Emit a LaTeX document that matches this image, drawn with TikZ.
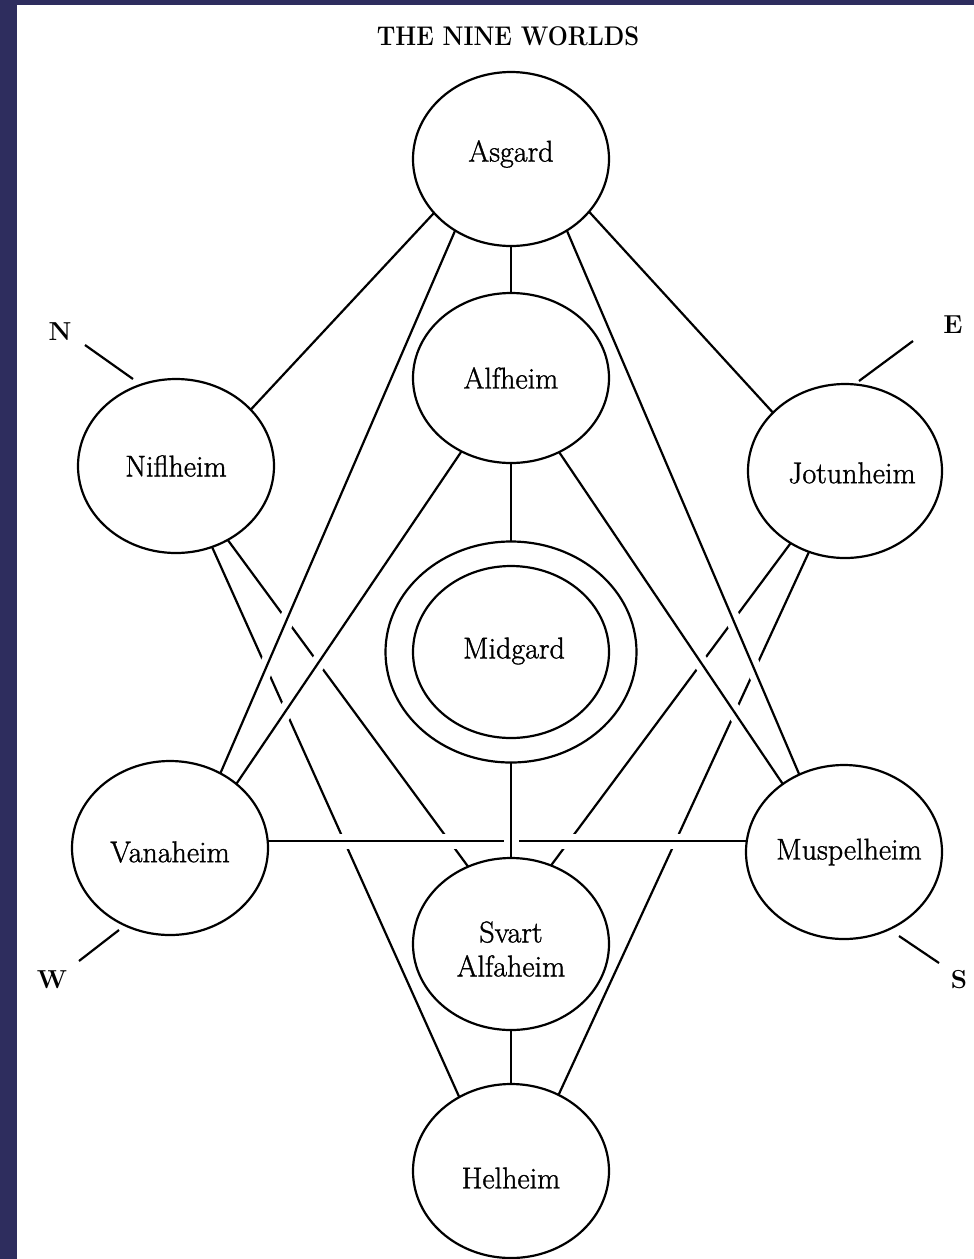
\documentclass[tikz,border=0pt]{standalone}
\usepackage{graphicx}
\usepackage{fontspec}
\newfontfamily\labfont{Latin Modern Roman}[FakeBold=1.2]
\usetikzlibrary{shapes.geometric}
\definecolor{band}{RGB}{46,45,94}
\pgfdeclarelayer{back}
\pgfdeclarelayer{lines}
\pgfsetlayers{back,lines,main}
\begin{document}
\begin{tikzpicture}[x=1pt,y=-1pt,
  world/.style={draw, ellipse, line width=2.2pt, minimum width=196pt, minimum height=174pt, inner sep=0pt, outer sep=0pt},
  txt/.style={font=\labfont\fontsize{30}{34}\selectfont, inner sep=0pt},
  link/.style={line width=2.2pt},
  over/.style={line width=2.2pt, preaction={draw=white, line width=15pt}},
  dirlab/.style={font=\bfseries\fontsize{26}{28}\selectfont, inner sep=0pt},
  tick/.style={line width=2.2pt},
]
\begin{pgfonlayer}{back}
\fill[white] (0,0) rectangle (974,1259);
\fill[band] (0,0) rectangle (17,1259);
\fill[band] (0,0) rectangle (974,5);
\end{pgfonlayer}
\useasboundingbox (0,0) rectangle (974,1259);

% title
\node[font=\bfseries\fontsize{27}{30}\selectfont, inner sep=0pt] (title) at (508,36) {\scalebox{0.88}[1]{THE NINE WORLDS}};

% worlds
\node[world, label={[txt,yshift=5pt]center:Asgard}] (asgard) at (511,159) {};
\node[world, minimum height=170pt, label={[txt]center:Alfheim}] (alfheim) at (511,378) {};
\node[world, label={[txt]center:Niflheim}] (niflheim) at (176,466) {};
\node[world, minimum width=194pt, label={[txt,xshift=7pt,yshift=-2pt]center:Jotunheim}] (jotunheim) at (845,471) {};
\node[world, label={[txt,yshift=-4pt]center:Vanaheim}] (vanaheim) at (170,848) {};
\node[world, label={[txt,xshift=5pt]center:Muspelheim}] (muspelheim) at (844,852) {};
\node[world, minimum height=172pt, label={[txt,xshift=3pt,yshift=1pt]center:Midgard}] (midgardin) at (511,652) {};
\node[world, minimum width=251pt, minimum height=221pt] (midgard) at (511,652) {};
\node[world, minimum height=172pt, label={[txt,yshift=-5pt,align=center]center:Svart\\Alfaheim}] (svart) at (511,944) {};
\node[world, label={[txt,yshift=-7pt]center:Helheim}] (helheim) at (511,1171) {};

% compass
\node[dirlab] (N) at (60,332) {N};
\node[dirlab] (E) at (953,325) {E};
\node[dirlab] (W) at (52,980) {W};
\node[dirlab] (S) at (959,980) {S};
\coordinate (n1) at (85,345);  \coordinate (n2) at (133,379);
\coordinate (e1) at (913,341); \coordinate (e2) at (859,381);
\coordinate (w1) at (79,961);  \coordinate (w2) at (119,930);
\coordinate (s1) at (899,936); \coordinate (s2) at (939,963);
\draw[tick] (n1) -- (n2);
\draw[tick] (e1) -- (e2);
\draw[tick] (w1) -- (w2);
\draw[tick] (s1) -- (s2);

\begin{pgfonlayer}{lines}
% lines passing underneath
\draw[link] (niflheim.294) -- (helheim.125);
\draw[link] (niflheim.305) -- (svart.119);
\draw[link] (jotunheim.233) -- (svart.63);
\draw[link] (jotunheim.246) -- (helheim.58);
% plain lines
\draw[link] (asgard.215) -- (niflheim.37);
\draw[link] (asgard.326) -- (jotunheim.141);
\draw[link] (asgard.270) -- (alfheim.90);
\draw[link] (alfheim.270) -- (midgard.90);
\draw[link] (svart.270) -- (helheim.90);
% lines passing over
\draw[over] (vanaheim.4) -- (vanaheim.4 -| muspelheim.west);
\draw[over] (asgard.232) -- (vanaheim.56);
\draw[over] (alfheim.236) -- (vanaheim.44);
\draw[over] (alfheim.303) -- (muspelheim.132);
\draw[over] (asgard.308) -- (muspelheim.120);
\draw[over] (midgard.270) -- (svart.90);
\end{pgfonlayer}
\end{tikzpicture}
\end{document}
